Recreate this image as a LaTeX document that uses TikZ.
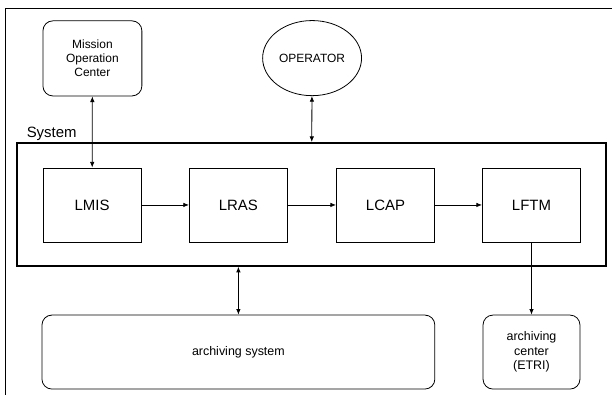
\documentclass[tikz,border=0pt]{standalone}
\usepackage{fontspec}
\setmainfont{Liberation Sans}
\usetikzlibrary{shapes.geometric,arrows.meta}
\begin{document}
\begin{tikzpicture}[
  block/.style={rectangle, draw, line width=0.8pt, minimum height=2.61cm, minimum width=3.46cm, font=\fontsize{15}{18}\selectfont},
  roundbox/.style={rectangle, rounded corners=0.35cm, draw, line width=0.8pt, minimum height=2.61cm, align=center, font=\fontsize{12.5}{14.5}\selectfont},
  link/.style={line width=0.8pt, {Latex[length=2mm,width=1.6mm]}-{Latex[length=2mm,width=1.6mm]}},
  flow/.style={line width=0.8pt, -{Latex[length=2mm,width=1.6mm]}}
]
  \useasboundingbox (0,0) rectangle (21.59,-13.97);
  % Frame
  \draw[line width=0.8pt] (0.18,-13.93) -- (0.18,-0.28) -- (21.59,-0.28);
  % Nodes
  \node (moc) [roundbox, minimum width=3.49cm, minimum height=2.65cm, font=\fontsize{12}{14}\selectfont] at (3.26,-2.06) {Mission\\Operation\\Center};
  \node (operator) [ellipse, draw, line width=0.8pt, inner sep=0pt, minimum width=3.49cm, minimum height=2.65cm, font=\fontsize{12}{14}\selectfont] at (11.01,-2.05) {OPERATOR};
  \node (system) [rectangle, draw, line width=1.6pt, minimum width=20.78cm, minimum height=4.34cm] at (10.99,-7.21) {};
  \node (syslabel) [anchor=south west, inner sep=1pt, font=\fontsize{15}{18}\selectfont] at ([xshift=0.33cm]system.north west) {System};
  \node (lmis) [block] at (3.25,-7.23) {LMIS};
  \node (lras) [block] at (8.41,-7.23) {LRAS};
  \node (lcap) [block] at (13.60,-7.23) {LCAP};
  \node (lftm) [block] at (18.75,-7.23) {LFTM};
  \node (archsys) [roundbox, minimum width=13.86cm] at (8.41,-12.42) {archiving system};
  \node (archctr) [roundbox, minimum width=3.42cm] at (18.75,-12.42) {archiving\\center\\(ETRI)};
  % Arrow
  \draw[link] (moc) -- (lmis);
  \draw[link] (operator) -- (system);
  \draw[flow] (lmis) -- (lras);
  \draw[flow] (lras) -- (lcap);
  \draw[flow] (lcap) -- (lftm);
  \draw[link] (archsys.north |- system.south) -- (archsys.north);
  \draw[flow] (lftm) -- (archctr);
\end{tikzpicture}
\end{document}
